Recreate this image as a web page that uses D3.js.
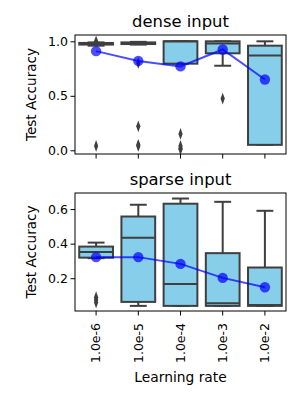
<!DOCTYPE html>
<html>
  <head>
    <meta charset="utf-8">
    <title>Test accuracy vs learning rate</title>
    <style>
      body { margin: 0; background: #fff; }
      text { font-family: "DejaVu Sans", sans-serif; fill: #000; }
    </style>
  </head>
  <body>
    <svg id="chart" width="300" height="400"></svg>
    <script src="https://d3js.org/d3.v7.min.js"></script>
    <script>
      // learning rates on the x axis
      var lrLabels = ["1.0e-6", "1.0e-5", "1.0e-4", "1.0e-3", "1.0e-2"];

      // dense input: box stats
      var denseLow = [0.96, 0.97, 0.795, 0.776, 0.05];
      var denseQ1 = [0.97, 0.975, 0.795, 0.89, 0.05];
      var denseMedian = [0.978, 0.985, 1.0, 0.98, 0.87];
      var denseQ3 = [0.985, 0.99, 1.0, 1.0, 0.96];
      var denseHigh = [0.99, 0.995, 1.0, 1.0, 1.0];
      var denseOutliers = [[1.0, 0.04], [0.80, 0.22, 0.05, 0.04], [0.15, 0.04, 0.02, 0.01], [0.475], []];
      var denseMean = [0.91, 0.82, 0.77, 0.925, 0.65];

      // sparse input
      var sparseLow = [0.316, 0.04, 0.04, 0.04, 0.04];
      var sparseQ1 = [0.319, 0.063, 0.04, 0.04, 0.04];
      var sparseMedian = [0.351, 0.434, 0.167, 0.055, 0.045];
      var sparseQ3 = [0.383, 0.557, 0.631, 0.345, 0.262];
      var sparseHigh = [0.406, 0.625, 0.661, 0.642, 0.59];
      var sparseOutliers = [[0.09, 0.075, 0.06], [], [], [], []];
      var sparseMean = [0.322, 0.322, 0.283, 0.202, 0.148];

      var denseTicks = [0.0, 0.5, 1.0];
      var sparseTicks = [0.2, 0.4, 0.6];

      var svg = d3.select("#chart");
      var left = 75, right = 286;
      var boxLine = "#3f3f3f";

      var x = d3.scaleBand().domain(lrLabels).range([left, right]).paddingInner(0.2).paddingOuter(0.1);

      function drawPanel(opt) {
        var y = d3.scaleLinear().domain(opt.domain).range([opt.bottom, opt.top]);
        var g = svg.append("g");

        var stats = lrLabels.map(function (lab, i) {
          return {lab: lab, lo: opt.low[i], q1: opt.q1[i], med: opt.median[i],
                  q3: opt.q3[i], hi: opt.high[i], out: opt.outliers[i], mean: opt.mean[i]};
        });

        var bw = x.bandwidth();
        var box = g.selectAll("g.box").data(stats).join("g").attr("class", "box");

        // whiskers
        box.append("line")
          .attr("x1", function (d) { return x(d.lab) + bw / 2; })
          .attr("x2", function (d) { return x(d.lab) + bw / 2; })
          .attr("y1", function (d) { return y(d.hi); })
          .attr("y2", function (d) { return y(d.q3); })
          .attr("stroke", boxLine).attr("stroke-width", 2);
        box.append("line")
          .attr("x1", function (d) { return x(d.lab) + bw / 2; })
          .attr("x2", function (d) { return x(d.lab) + bw / 2; })
          .attr("y1", function (d) { return y(d.lo); })
          .attr("y2", function (d) { return y(d.q1); })
          .attr("stroke", boxLine).attr("stroke-width", 2);
        // caps
        ["hi", "lo"].forEach(function (k) {
          box.append("line")
            .attr("x1", function (d) { return x(d.lab) + bw / 4; })
            .attr("x2", function (d) { return x(d.lab) + bw * 3 / 4; })
            .attr("y1", function (d) { return y(d[k]); })
            .attr("y2", function (d) { return y(d[k]); })
            .attr("stroke", boxLine).attr("stroke-width", 2);
        });
        // box body
        box.append("rect")
          .attr("x", function (d) { return x(d.lab); })
          .attr("width", bw)
          .attr("y", function (d) { return y(d.q3); })
          .attr("height", function (d) { return y(d.q1) - y(d.q3); })
          .attr("fill", "#87ceeb").attr("stroke", boxLine).attr("stroke-width", 2);
        // median
        box.append("line")
          .attr("x1", function (d) { return x(d.lab); })
          .attr("x2", function (d) { return x(d.lab) + bw; })
          .attr("y1", function (d) { return y(d.med); })
          .attr("y2", function (d) { return y(d.med); })
          .attr("stroke", boxLine).attr("stroke-width", 2);
        // outliers as thin diamonds
        var diamond = d3.symbol().type(d3.symbolDiamond).size(40);
        box.selectAll("path.out")
          .data(function (d) { return d.out.map(function (v) { return {lab: d.lab, v: v}; }); })
          .join("path").attr("class", "out")
          .attr("d", diamond)
          .attr("transform", function (d) { return "translate(" + (x(d.lab) + bw / 2) + "," + y(d.v) + ") scale(0.62,1)"; })
          .attr("fill", boxLine);

        // mean line
        var line = d3.line()
          .x(function (d) { return x(d.lab) + bw / 2; })
          .y(function (d) { return y(d.mean); });
        g.append("path").datum(stats)
          .attr("d", line)
          .attr("fill", "none").attr("stroke", "blue").attr("stroke-opacity", 0.7).attr("stroke-width", 2);
        g.selectAll("circle.mean").data(stats).join("circle").attr("class", "mean")
          .attr("cx", function (d) { return x(d.lab) + bw / 2; })
          .attr("cy", function (d) { return y(d.mean); })
          .attr("r", 5.2).attr("fill", "blue").attr("fill-opacity", 0.7);

        // axes
        var yAxis = d3.axisLeft(y).tickValues(opt.ticks).tickFormat(d3.format(".1f")).tickSize(4.5).tickPadding(2.5);
        var ya = g.append("g").attr("transform", "translate(" + left + ",0)").call(yAxis);
        var xAxis = d3.axisBottom(x).tickSize(4.5).tickPadding(3);
        var xa = g.append("g").attr("transform", "translate(0," + opt.bottom + ")").call(xAxis);
        [ya, xa].forEach(function (a) {
          a.select(".domain").remove();
          a.selectAll("line").attr("stroke", "#000");
          a.selectAll("text").attr("font-size", 12.5).attr("font-family", "DejaVu Sans").attr("fill", "#000");
        });
        if (opt.showX) {
          xa.selectAll("text")
            .attr("transform", "rotate(-90)")
            .attr("text-anchor", "end")
            .attr("x", -12).attr("y", 0).attr("dy", "0.35em");
        } else {
          xa.selectAll("text").remove();
        }

        g.append("rect")
          .attr("x", left).attr("y", opt.top)
          .attr("width", right - left).attr("height", opt.bottom - opt.top)
          .attr("fill", "none").attr("stroke", "#000").attr("stroke-width", 1);

        g.append("text")
          .attr("x", (left + right) / 2).attr("y", opt.top - 8.5)
          .attr("text-anchor", "middle").attr("font-size", 16.4)
          .text(opt.title);
        g.append("text")
          .attr("transform", "translate(36," + (opt.top + opt.bottom) / 2 + ") rotate(-90)")
          .attr("text-anchor", "middle").attr("font-size", 13.6)
          .text("Test Accuracy");
      }

      drawPanel({title: "dense input", top: 35, bottom: 154, domain: [-0.034, 1.058], ticks: denseTicks,
        low: denseLow, q1: denseQ1, median: denseMedian, q3: denseQ3, high: denseHigh,
        outliers: denseOutliers, mean: denseMean, showX: false});
      drawPanel({title: "sparse input", top: 193, bottom: 311, domain: [0.0104, 0.693], ticks: sparseTicks,
        low: sparseLow, q1: sparseQ1, median: sparseMedian, q3: sparseQ3, high: sparseHigh,
        outliers: sparseOutliers, mean: sparseMean, showX: true});

      svg.append("text")
        .attr("x", (left + right) / 2).attr("y", 382)
        .attr("text-anchor", "middle").attr("font-size", 13.8)
        .text("Learning rate");
    </script>
  </body>
</html>
